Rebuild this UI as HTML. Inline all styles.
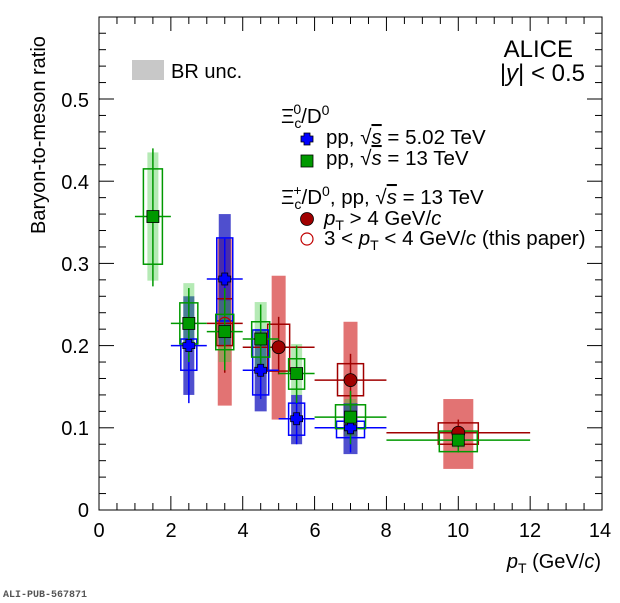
<!DOCTYPE html>
<html><head><meta charset="utf-8"><style>
body{margin:0;background:#fff;}
svg{display:block;font-family:"Liberation Sans",sans-serif;}
</style></head><body>
<svg id="s" width="620" height="603" viewBox="0 0 620 603" xmlns="http://www.w3.org/2000/svg">
<rect x="0" y="0" width="620" height="603" fill="#fff"/>
<g id="data"></g>
<rect x="99" y="17" width="503" height="493" fill="none" stroke="#000" stroke-width="1"/>
<g id="ticks" stroke="#000" stroke-width="1"></g>
<g font-size="20" fill="#000" text-anchor="end">
<text x="89" y="517">0</text><text x="89" y="435">0.1</text><text x="89" y="353">0.2</text>
<text x="89" y="271">0.3</text><text x="89" y="189">0.4</text><text x="89" y="107">0.5</text>
</g>
<g font-size="20" fill="#000" text-anchor="middle">
<text x="99" y="537">0</text><text x="171" y="537">2</text><text x="243" y="537">4</text>
<text x="315" y="537">6</text><text x="386" y="537">8</text><text x="458" y="537">10</text>
<text x="530" y="537">12</text><text x="600" y="537">14</text>
</g>
<text transform="translate(45,135) rotate(-90)" font-size="20" text-anchor="middle">Baryon-to-meson ratio</text>
<text x="601" y="568" font-size="20" text-anchor="end"><tspan font-style="italic">p</tspan><tspan font-size="14" dy="5">T</tspan><tspan dy="-5"> (GeV/</tspan><tspan font-style="italic">c</tspan>)</text>
<text x="3" y="597" font-family="Liberation Mono, monospace" font-weight="bold" font-size="10" fill="#555">ALI-PUB-567871</text>
<rect x="132" y="60" width="32" height="20" fill="#c8c8c8"/>
<text x="171" y="78" font-size="20">BR unc.</text>
<text x="573" y="57" font-size="24" text-anchor="end">ALICE</text>
<text x="585" y="81" font-size="24" text-anchor="end">|<tspan font-style="italic">y</tspan>| &lt; 0.5</text>
<g font-size="20.5">
<text x="281" y="123">Ξ<tspan font-size="14" dy="5">c</tspan><tspan font-size="14" dx="-8" dy="-14">0</tspan><tspan dy="9">/D</tspan><tspan font-size="14" dy="-8">0</tspan></text>
<text x="326" y="144">pp, √<tspan font-style="italic" text-decoration="overline">s</tspan> = 5.02 TeV</text>
<text x="326" y="165">pp, √<tspan font-style="italic" text-decoration="overline">s</tspan> = 13 TeV</text>
<text x="281" y="204">Ξ<tspan font-size="14" dy="5">c</tspan><tspan font-size="14" dx="-8" dy="-14">+</tspan><tspan dy="9">/D</tspan><tspan font-size="14" dy="-8">0</tspan><tspan dy="8">, pp, √</tspan><tspan font-style="italic" text-decoration="overline">s</tspan> = 13 TeV</text>
<text x="324" y="225"><tspan font-style="italic">p</tspan><tspan font-size="14" dy="5">T</tspan><tspan dy="-5"> &gt; 4 GeV/</tspan><tspan font-style="italic">c</tspan></text>
<text x="324" y="245">3 &lt; <tspan font-style="italic">p</tspan><tspan font-size="14" dy="5">T</tspan><tspan dy="-5"> &lt; 4 GeV/</tspan><tspan font-style="italic">c</tspan> (this paper)</text>
</g>
<path d="M304 133h6v3h3v6h-3v3h-6v-3h-3v-6h3z" fill="#0000ff" stroke="#000" stroke-width="0.8"/>
<rect x="301" y="155" width="12" height="12" fill="#009900" stroke="#000" stroke-width="0.8"/>
<circle cx="307" cy="219" r="6.5" fill="#a00000" stroke="#000" stroke-width="0.8"/>
<circle cx="307" cy="239" r="6" fill="#fff" stroke="#c00000" stroke-width="1.2"/>
</svg>
<script>
const X=v=>99+35.93*v, Y=v=>510-822*v;
const NS="http://www.w3.org/2000/svg";
function el(p,t,a){const e=document.createElementNS(NS,t);for(const k in a)e.setAttribute(k,a[k]);p.appendChild(e);return e;}
const tk=document.getElementById("ticks");
for(let i=0;i<=28;i++){const v=i*0.5,x=X(v),L=(i%4==0)?14:7;
 el(tk,"line",{x1:x,y1:510,x2:x,y2:510-L});el(tk,"line",{x1:x,y1:17,x2:x,y2:17+L});}
for(let i=0;i<=30;i++){const v=i*0.02,y=Y(v),L=(i%5==0)?15:7;if(y<17)continue;
 el(tk,"line",{x1:99,y1:y,x2:99+L,y2:y});el(tk,"line",{x1:602,y1:y,x2:602-L,y2:y});}
const g=document.getElementById("data");
const green=[[1.5,.357,1,2,.272,.44,.299,.415,9.5,.279,.435,5.5],[2.5,.227,2,3,.18,.27,.202,.252,9,.195,.276,5.5],[3.5,.217,3,4,.17,.27,.195,.238,9,.18,.255,6],[4.5,.208,4,5,.17,.25,.186,.229,9,.17,.253,6],[5.5,.166,5,6,.13,.2,.147,.184,8,.14,.202,5.5],[7,.113,6,8,.08,.145,.099,.128,15,.09,.135,6],[10,.085,8,12,.07,.1,.071,.096,19,.075,.095,6]];
const blue=[[2.5,.2,2,3,.13,.255,.17,.208,8,.14,.26,5.5],[3.5,.281,3,4,.2,.33,.23,.331,8,.2,.36,6],[4.5,.17,4,5,.135,.205,.14,.219,8,.12,.22,6],[5.5,.111,5,6,.08,.14,.091,.13,8,.08,.14,5.5],[7,.1,6,8,.07,.12,.088,.108,14,.068,.13,7]];
const red=[[3.5,.227,3,4,.167,.32,.2,.257,8,.127,.33,7,1],[5,.198,4,6,.165,.235,.169,.226,11,.11,.285,7],[7,.158,6,8,.125,.19,.139,.178,13,.09,.229,7],[10,.094,8,12,.08,.11,.08,.106,20,.05,.135,15]];
const sets=[[red,"rgba(210,40,40,0.65)","#a00000","red"],[blue,"rgba(20,20,190,0.75)","#0000ff","blue"],[green,"rgba(60,200,60,0.38)","#009900","green"]];
sets.forEach(([d,bc])=>d.forEach(p=>{el(g,"rect",{x:X(p[0])-p[11],y:Y(p[10]),width:2*p[11],height:Y(p[9])-Y(p[10]),fill:bc});}));
sets.forEach(([d,bc,lc])=>d.forEach(p=>{el(g,"rect",{x:X(p[0])-p[8],y:Y(p[7]),width:2*p[8],height:Y(p[6])-Y(p[7]),fill:"none",stroke:lc,"stroke-width":1.5});
 el(g,"line",{x1:X(p[2]),y1:Y(p[1]),x2:X(p[3]),y2:Y(p[1]),stroke:lc,"stroke-width":1.5});
 el(g,"line",{x1:X(p[0]),y1:Y(p[4]),x2:X(p[0]),y2:Y(p[5]),stroke:lc,"stroke-width":1.5});}));
sets.forEach(([d,bc,lc,k])=>d.forEach(p=>{const x=X(p[0]),y=Y(p[1]);
 if(k=="green")el(g,"rect",{x:x-6,y:y-6,width:12,height:12,fill:"#009900",stroke:"#000","stroke-width":0.8});
 else if(k=="blue")el(g,"path",{d:`M${x-3} ${y-6}h6v3h3v6h-3v3h-6v-3h-3v-6h3z`,fill:"#0000ff",stroke:"#000","stroke-width":0.8});
 else if(p[12])el(g,"circle",{cx:x,cy:y,r:6,fill:"none",stroke:"#c00000","stroke-width":1.2});
 else el(g,"circle",{cx:x,cy:y,r:6.5,fill:"#a00000",stroke:"#000","stroke-width":0.8});}));
</script>
</body></html>
